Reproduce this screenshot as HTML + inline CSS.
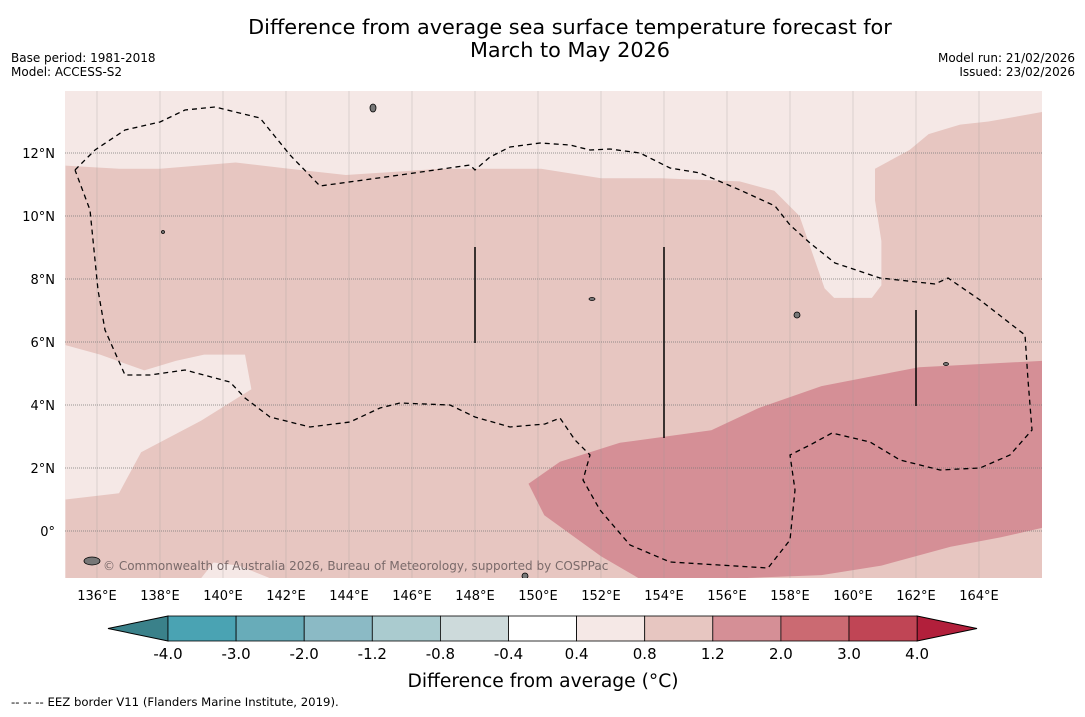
<!DOCTYPE html>
<html><head><meta charset="utf-8"><style>
body{margin:0;background:#fff;width:1085px;height:713px;overflow:hidden;font-family:"DejaVu Sans","Liberation Sans",sans-serif}
svg text{font-family:"DejaVu Sans","Liberation Sans",sans-serif}
</style></head><body>
<svg id="c" width="1085" height="713">
<text x="570" y="34" text-anchor="middle" font-size="20.8">Difference from average sea surface temperature forecast for</text>
<text x="570" y="57" text-anchor="middle" font-size="20.8">March to May 2026</text>
<text x="11" y="62" font-size="12">Base period: 1981-2018</text>
<text x="11" y="76" font-size="12">Model: ACCESS-S2</text>
<text x="1075" y="62" font-size="12" text-anchor="end">Model run: 21/02/2026</text>
<text x="1075" y="76" font-size="12" text-anchor="end">Issued: 23/02/2026</text>
<g id="map"></g>
<g id="cbar"></g>
<text x="543" y="687" text-anchor="middle" font-size="18.7">Difference from average (°C)</text>
<text x="11" y="706" font-size="11.7">--  --  -- EEZ border V11 (Flanders Marine Institute, 2019).</text>
</svg>
<script>
const lonTicks=[136,138,140,142,144,146,148,150,152,154,156,158,160,162,164];
const latTicks=[0,2,4,6,8,10,12];
const midBand=[[135,11.6],[136.7,11.5],[138,11.5],[140.4,11.7],[142.1,11.5],[143.9,11.3],[146.9,11.5],[150.1,11.5],[152,11.2],[153.9,11.2],[156.4,11.1],[157.5,10.8],[158.3,10],[159.1,7.7],[159.4,7.4],[160.6,7.4],[160.9,7.8],[160.9,9.2],[160.7,10.5],[160.7,11.5],[161.8,12.1],[162.4,12.6],[163.4,12.9],[164.3,13],[166,13.3],[166,-1.5],[141.5,-1.5],[140.5,-1.1],[139.7,-1.0],[139.3,-1.5],[135,-1.5],[135,1.0],[136.7,1.2],[137.4,2.5],[139.3,3.5],[140.9,4.5],[140.7,5.6],[139.4,5.6],[138.5,5.4],[137.5,5.1],[136.1,5.6],[135,5.9]];
const darkBand=[[149.7,1.5],[150.7,2.2],[152.6,2.8],[155.5,3.2],[157,3.9],[159,4.6],[162.1,5.2],[166,5.4],[166,0.1],[164.7,-0.2],[163.1,-0.5],[160.9,-1.1],[159,-1.4],[156.4,-1.5],[153.2,-1.5],[152,-0.8],[150.2,0.5]];
const cbLevels=["-4.0","-3.0","-2.0","-1.2","-0.8","-0.4","0.4","0.8","1.2","2.0","3.0","4.0"];
const cbColors=["#4aa3b3","#68acb9","#8bbac5","#aacbcf","#cddadb","#ffffff","#f5e8e6","#e7c6c1","#d58f96","#cb6a72","#c04555"];
const NS="http://www.w3.org/2000/svg";
const X0=65,X1=1042,Y0=91,Y1=578;
const xs=lon=>65.5+(lon-135)*31.5;
const ys=lat=>531-lat*31.5;
function mk(t,a,p){const e=document.createElementNS(NS,t);for(const k in a)e.setAttribute(k,a[k]);p.appendChild(e);return e;}
const map=document.getElementById('map');
const bg=mk('rect',{x:X0,y:Y0,width:X1-X0,height:Y1-Y0,fill:"#f5e8e6"},map);


const pts=a=>a.map(p=>xs(p[0]).toFixed(1)+","+ys(p[1]).toFixed(1)).join(" ");
const cp=mk('clipPath',{id:'mc'},map);mk('rect',{x:X0,y:Y0,width:X1-X0,height:Y1-Y0},cp);
const g=mk('g',{'clip-path':'url(#mc)'},map);
const m1=mk('polygon',{points:pts(midBand),fill:"#e7c6c1"},g);


const m2=mk('polygon',{points:pts(darkBand),fill:"#d58f96"},g);


lonTicks.forEach(l=>{
 const ln=mk('line',{x1:xs(l),x2:xs(l),y1:Y0,y2:Y1,stroke:"#999",'stroke-width':0.6,'stroke-opacity':0.5},g);
 
 
 const t=mk('text',{x:xs(l),y:600,'text-anchor':'middle','font-size':13},map);t.textContent=l+"°E";
 
 
});
latTicks.forEach(l=>{
 const ln=mk('line',{x1:X0,x2:X1,y1:ys(l),y2:ys(l),stroke:"#777",'stroke-width':0.8,'stroke-dasharray':'1,1'},g);
 
 
 const t=mk('text',{x:55,y:ys(l)+5,'text-anchor':'end','font-size':13},map);t.textContent=l===0?"0°":l+"°N";
 
 
});
const eez=mk('polyline',{points:"75,170 95,150 125,130 160,122 185,110 215,107 260,118 290,155 320,186 400,175 470,165 475,170 490,157 510,147 540,143 570,145 590,150 610,149 640,153 670,168 700,173 740,190 775,206 790,225 810,243 835,263 880,278 935,284 948,278 980,300 1025,335 1028,380 1032,430 1010,455 980,468 940,470 900,460 870,442 832,433 810,445 790,455 795,490 790,540 768,568 670,562 630,545 600,510 583,480 590,455 575,440 560,418 545,424 510,427 475,417 450,405 400,403 380,408 350,422 310,427 270,417 245,398 230,382 185,370 150,375 125,375 105,330 98,290 90,210 75,170",fill:"none",stroke:"#000",'stroke-width':1.3,'stroke-dasharray':'5,4'},g);


[[475,247,343],[664,247,438],[916,310,406]].forEach(v=>{const l=mk('line',{x1:v[0],x2:v[0],y1:v[1],y2:v[2],stroke:"#000",'stroke-width':1.5},g);
 
 });
[[373,108,3,4],[797,315,3,3],[592,299,3,1.5],[163,232,1.5,1.5],[946,364,2.5,1.5],[92,561,8,4],[525,576,3,3]].forEach(v=>{const e=mk('ellipse',{cx:v[0],cy:v[1],rx:v[2],ry:v[3],fill:"#777",stroke:"#000",'stroke-width':0.8},g);
 
 });
const cr=mk('text',{x:103,y:570,'font-size':12,fill:"#7a6a6a"},map);cr.textContent="© Commonwealth of Australia 2026, Bureau of Meteorology, supported by COSPPac";


const cb=document.getElementById('cbar');
const cx0=168,cw=68.1,cy=616,ch=25;
const lt=mk('polygon',{points:`${cx0},${cy} ${cx0},${cy+ch} 108,${cy+ch/2}`,fill:"#3a818a",stroke:"#000",'stroke-width':1},cb);


const rt=mk('polygon',{points:`${cx0+11*cw},${cy} ${cx0+11*cw},${cy+ch} 977,${cy+ch/2}`,fill:"#b21f3b",stroke:"#000",'stroke-width':1},cb);


cbColors.forEach((c,i)=>{const r=mk('rect',{x:cx0+i*cw,y:cy,width:cw,height:ch,fill:c,stroke:"#000",'stroke-width':0.8},cb);
 
 });
cbLevels.forEach((v,i)=>{const t=mk('text',{x:cx0+i*cw,y:659,'text-anchor':'middle','font-size':15},cb);t.textContent=v;
 
 });
</script>
</body></html>
